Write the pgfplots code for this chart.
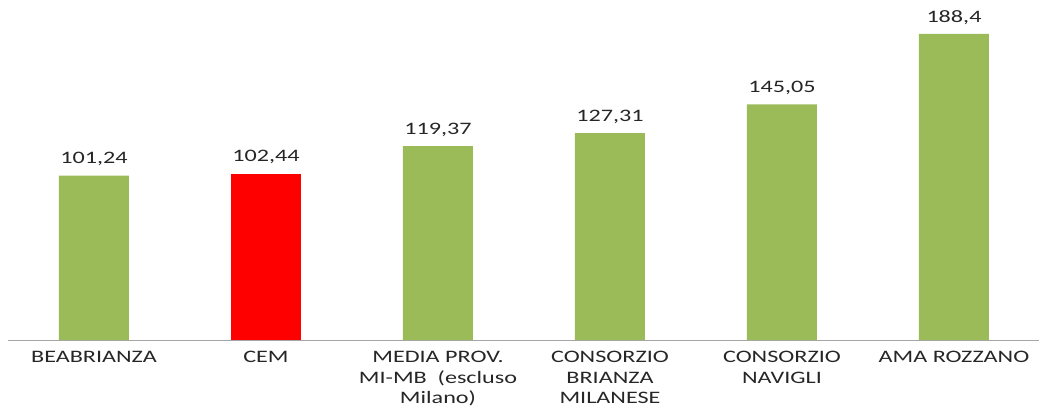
\documentclass[border=0pt]{standalone}
\usepackage{fontspec}
\setmainfont{Carlito}[FakeStretch=1.38]
\usepackage{pgfplots}
\pgfplotsset{compat=1.18}
\definecolor{barg}{HTML}{9BBB59}
\definecolor{txt}{HTML}{262626}
\begin{document}
\begin{tikzpicture}
\begin{axis}[
  scale only axis,
  width=1032pt, height=340pt,
  xmin=-0.5, xmax=5.5, ymin=0, ymax=209.3,
  axis y line=none,
  axis x line*=bottom,
  x axis line style={draw=black!35, line width=1pt, -},
  xtick={0,1,2,3,4,5},
  xticklabels={BEABRIANZA,CEM,{MEDIA PROV.\\MI-MB~ (escluso\\Milano)},{CONSORZIO\\BRIANZA\\MILANESE},{CONSORZIO\\NAVIGLI},AMA ROZZANO},
  major tick length=0pt,
  xticklabel style={align=center, font=\fontsize{17.5}{20.5}\selectfont, text=txt, yshift=-8pt, anchor=north},
  ybar, bar width=70pt,
  nodes near coords,
  point meta=explicit symbolic,
  every node near coord/.append style={font=\fontsize{17.5}{21}\selectfont, text=txt, yshift=6pt},
  clip=false,
]
\addplot[fill=barg, draw=none, bar shift=0pt] table[x=x, y=y, meta=lab] {
x y lab
0 101.24 101,24
2 119.37 119,37
3 127.31 127,31
4 145.05 145,05
5 188.4 188,4
};
\addplot[fill=red, draw=none, bar shift=0pt] table[x=x, y=y, meta=lab] {
x y lab
1 102.44 102,44
};
\end{axis}
\pgfresetboundingbox
\path (-8pt,-67pt) rectangle (1031pt,340pt);
\end{tikzpicture}
\end{document}
